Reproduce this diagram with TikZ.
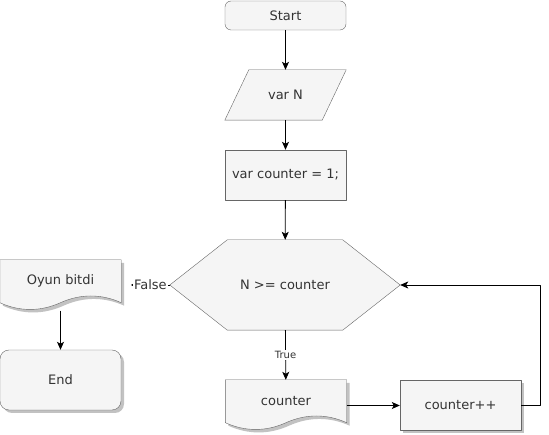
\documentclass[tikz,border=0pt]{standalone}
\usepackage{fontspec}
\setmainfont{DejaVu Sans}
\usetikzlibrary{arrows.meta,shadows}
\pgfdeclarelayer{background}
\pgfsetlayers{background,main}
\definecolor{boxfill}{HTML}{F5F5F5}
\definecolor{boxline}{HTML}{666666}
\definecolor{boxtext}{HTML}{333333}
\tikzset{
	box/.style={draw=boxline, fill=boxfill, text=boxtext, minimum width=121pt, inner sep=0pt},
	plain/.style={text=boxtext, minimum width=121pt, inner sep=0pt},
	outline/.style={draw=boxline, fill=boxfill},
	shade/.style={drop shadow={shadow xshift=3pt, shadow yshift=-3pt, fill=black!40, opacity=0.6}},
	flow/.style={->, black, line width=0.8pt},
	tag/.style={fill=white, text=boxtext, inner sep=1pt},
}
\begin{document}
\begin{tikzpicture}[x=1pt, y=-1pt, >={Stealth[length=8pt,width=7pt,inset=2pt]}, font=\fontsize{13}{15}\selectfont, line join=round]
	\useasboundingbox (0,0) rectangle (549,435);
	% main column
	\node[box, rounded corners=6pt, minimum height=29pt] (start) at (285.5,15.5) {Start};
	\node[plain, minimum height=50pt] (varn) at (285.5,95) {var N};
	\node[box, minimum height=50pt] (init) at (285.5,175) {var counter = 1;};
	\node[plain, minimum width=230pt, minimum height=90pt] (check) at (285,285) {N >= counter};
	\node[plain, minimum height=42.5pt] (show) at (286,401.25) {counter};
	\node[box, shade, minimum height=50pt] (incr) at (460.5,405.5) {counter++};
	% left column
	\node[plain, minimum height=42.5pt] (over) at (60.5,281.25) {Oyun bitdi};
	\node[box, shade, rounded corners=9pt, minimum height=60pt] (end) at (60.5,380) {End};
	\path (131,285) coordinate (F) (540.5,405.5) coordinate (R1) (540.5,285) coordinate (R2);
	\begin{pgfonlayer}{background}
		\draw[outline] ([xshift=24pt]varn.north west) -- (varn.north east) -- ([xshift=-24pt]varn.south east) -- (varn.south west) -- cycle;
		\draw[outline] (check.west) -- ([xshift=57.5pt]check.north west) -- ([xshift=-57.5pt]check.north east) -- (check.east) -- ([xshift=-57.5pt]check.south east) -- ([xshift=57.5pt]check.south west) -- cycle;
		\foreach \d in {show,over}
		\draw[outline, shade] (\d.south west) -- (\d.north west) -- (\d.north east) -- (\d.south east)
			.. controls +(-20,-9) and +(20,-9) .. (\d.south) .. controls +(-20,9) and +(20,9) .. (\d.south west) -- cycle;
	\end{pgfonlayer}
	\draw[flow] (start) -- (varn);
	\draw[flow] (varn) -- (init);
	\draw[flow] (init) -- (check);
	\draw[flow] (check) -- node[tag, font=\fontsize{10}{12}\selectfont]{True} (show);
	\draw[flow] (show.east |- incr) -- (incr);
	\draw[flow] (incr.east) -- (R1) -- (R2) -- (check.east);
	\draw[->, >={Stealth[length=3pt,width=3pt]}, line width=0.6pt] (check.west) -- node[tag]{False} (F);
	\draw[flow] ([yshift=-8pt]over.south) -- (end);
\end{tikzpicture}
\end{document}
